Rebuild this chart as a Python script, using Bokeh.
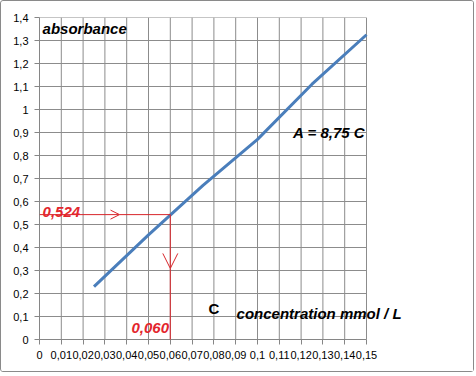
from bokeh.plotting import figure
from bokeh.models import Range1d, FixedTicker, Label, Arrow, OpenHead
from bokeh.embed import file_html
from bokeh.resources import INLINE

# ---- data ----
concentration = [0.025, 0.05, 0.075, 0.1, 0.125, 0.15]
absorbance = [0.23, 0.455, 0.67, 0.87, 1.11, 1.325]

x_ticks = [0.0, 0.01, 0.02, 0.03, 0.04, 0.05, 0.06, 0.07, 0.08, 0.09,
           0.10, 0.11, 0.12, 0.13, 0.14, 0.15]
x_tick_labels = ["0", "0,01", "0,02", "0,03", "0,04", "0,05", "0,06", "0,07",
                 "0,08", "0,09", "0,1", "0,11", "0,12", "0,13", "0,14", "0,15"]
y_ticks = [0.0, 0.1, 0.2, 0.3, 0.4, 0.5, 0.6, 0.7, 0.8, 0.9, 1.0, 1.1, 1.2, 1.3, 1.4]
y_tick_labels = ["0", "0,1", "0,2", "0,3", "0,4", "0,5", "0,6", "0,7", "0,8",
                 "0,9", "1", "1,1", "1,2", "1,3", "1,4"]

read_conc = 0.06
read_abs = 0.543
read_abs_text = "0,524"
read_conc_text = "0,060"

GRID = "#8c8c8c"
BLUE = "#4a7ebb"
RED = "#d8262b"
TXT_RED = "#e3262d"
FONT = "Liberation Sans"

x_lo, x_hi = x_ticks[0], x_ticks[-1]
y_lo, y_hi = y_ticks[0], y_ticks[-1]

p = figure(width=474, height=372, x_range=Range1d(0, 0.2), y_range=Range1d(0, 1.4),
           output_backend="svg", toolbar_location=None,
           min_border_left=38, min_border_right=0, min_border_top=16, min_border_bottom=34)
p.outline_line_color = None
p.background_fill_color = "white"
p.border_fill_color = "white"
p.styles = {"border": "1px solid #8a8a8a", "border-radius": "3px", "box-sizing": "border-box"}

p.xaxis.ticker = FixedTicker(ticks=x_ticks)
p.yaxis.ticker = FixedTicker(ticks=y_ticks)
p.xaxis.bounds = (x_lo, x_hi)
p.xaxis.major_label_overrides = {t: l for t, l in zip(x_ticks, x_tick_labels)}
p.yaxis.major_label_overrides = {t: l for t, l in zip(y_ticks, y_tick_labels)}
for ax in (p.xaxis, p.yaxis):
    ax.axis_line_color = "#868686"
    ax.major_tick_line_color = "#868686"
    ax.major_tick_out = 5
    ax.major_tick_in = 0
    ax.minor_tick_line_color = None
    ax.major_label_text_font = FONT
    ax.major_label_text_font_size = "11px"
    ax.major_label_text_color = "black"
    ax.major_label_standoff = 6
p.xgrid.visible = False
p.ygrid.visible = False

# grid drawn only over the plot area (0..0.15 x 0..1.4)
p.segment(x0=x_ticks, y0=[y_lo] * len(x_ticks), x1=x_ticks, y1=[y_hi] * len(x_ticks),
          line_color=GRID, line_width=1)
p.segment(x0=[x_lo] * len(y_ticks), y0=y_ticks, x1=[x_hi] * len(y_ticks), y1=y_ticks,
          line_color=GRID, line_width=1)

p.line(concentration, absorbance, line_color=BLUE, line_width=3)

# reading arrows
p.add_layout(Arrow(x_start=0, y_start=read_abs, x_end=0.0367, y_end=read_abs,
                   line_color=RED, line_width=1,
                   end=OpenHead(size=9, line_color=RED, line_width=1)))
p.add_layout(Arrow(x_start=0.0367, y_start=read_abs, x_end=read_conc, y_end=read_abs,
                   line_color=RED, line_width=1, end=None))
p.add_layout(Arrow(x_start=read_conc, y_start=read_abs, x_end=read_conc, y_end=0.309,
                   line_color=RED, line_width=1,
                   end=OpenHead(size=15, line_color=RED, line_width=1)))
p.add_layout(Arrow(x_start=read_conc, y_start=0.309, x_end=read_conc, y_end=-0.045,
                   line_color=RED, line_width=1, end=None))

def lab(x, y, text, color="black", style="bold italic", size="15px"):
    p.add_layout(Label(x=x, y=y, text=text, text_font=FONT, text_font_size=size,
                       text_font_style=style, text_color=color,
                       text_baseline="alphabetic", text_align="left"))

lab(0.0014, 1.3535, "absorbance")
lab(0.0014, 0.5565, read_abs_text, color=TXT_RED)
lab(0.0422, 0.052, read_conc_text, color=TXT_RED)
lab(0.1163, 0.90, "A = 8,75 C", size="15px")
lab(0.0775, 0.1348, "C", style="bold")
lab(0.0904, 0.113, "concentration mmol / L")

open("out.html", "w").write(file_html(p, INLINE))
